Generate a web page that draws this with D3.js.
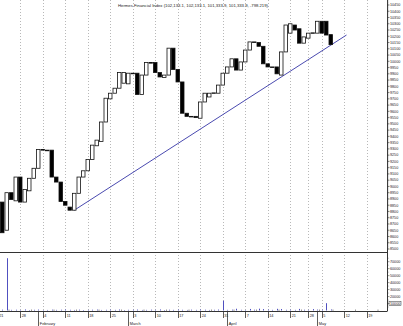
<!DOCTYPE html>
<html>
<head>
<meta charset="utf-8">
<script src="https://cdn.jsdelivr.net/npm/d3@7"></script>
<style>
  body { margin: 0; background: #fff; }
  svg { display: block; font-family: "Liberation Sans", Arial, sans-serif; }
</style>
</head>
<body>
<div id="chart"></div>
<script>
const width = 403,
height = 326;

// daily bodies (open / close), trading day index 0..73
const opens = [8875, 8650, 8950, 8885, 9075, 8875, 8965, 9065, 9145, 9295,
  9290, 9290, 9075, 9035, 8880, 8835, 8810, 8945, 9075, 9125,
  9215, 9325, 9360, 9515, 9700, 9745, 9785, 9825, 9820, 9905,
  9905, 9735, 9890, 9990, 9990, 9910, 9870, 9890, 10105, 9935,
  9835, 9585, 9560, 9560, 9545, 9675, 9715, 9745, 9745, 9810,
  9905, 9955, 10020, 9930, 9995, 10090, 10155, 10150, 10120, 9980,
  9955, 9955, 9890, 10075, 10225, 10290, 10260, 10145, 10185, 10225,
  10225, 10320, 10320, 10213.31];
const closes = [8630, 8950, 8895, 9075, 8875, 8975, 9065, 9145, 9295, 9290,
  9285, 9075, 9035, 8880, 8850, 8810, 8945, 9075, 9125, 9215,
  9330, 9370, 9515, 9705, 9745, 9785, 9910, 9910, 9905, 9903,
  9735, 9890, 9990, 9987, 9910, 9875, 9890, 10105, 9935, 9835,
  9585, 9560, 9558, 9550, 9675, 9745, 9745, 9748, 9810, 9905,
  9955, 10020, 9930, 9995, 10090, 10155, 10152, 10120, 9980, 9955,
  9953, 9900, 10075, 10290, 10300, 10250, 10145, 10195, 10225, 10228,
  10320, 10225, 10210, 10133.39];
const volumes = [1200, 75000, 900, 1100, 800, 1500, 700, 1000, 1300, 600,
  800, 1200, 900, 1100, 1400, 1000, 800, 1200, 700, 900,
  1100, 1300, 800, 1000, 1200, 900, 1400, 700, 1000, 1100,
  1300, 800, 900, 1200, 1000, 1500, 700, 1100, 900, 1300,
  1000, 800, 1200, 900, 1400, 1100, 800, 1000, 1300, 14000,
  900, 1200, 2500, 1000, 800, 2200, 1100, 2600, 2000, 1300,
  900, 2400, 2100, 1000, 1200, 900, 2300, 1100, 1000, 2000,
  1300, 1200, 10500, 1500];

// week ticks (trading day index) and their labels
const weekTicks = [-1, 4, 9, 14, 19, 24, 29, 34, 39, 44, 49, 54, 59, 64, 68, 71, 76, 81];
const weekLabels = ['21', '28', '4', '11', '18', '25', '3', '10', '17', '24', '31', '7', '14', '21', '28', '5', '12', '19'];
const monthTicks = [8, 28, 50, 70];
const monthLabels = ['February', 'March', 'April', 'May'];

const priceTicks = d3.range(8500, 10451, 50);
const volumeTicks = [70000, 60000, 50000, 40000, 30000, 20000, 10000];

// trend line: [day index, price]
const trendStart = [16, 8810];
const trendEnd = [76.5, 10210];

const title = 'Hermes Financial Index (102,133.1, 102,133.1, 101,333.9, 101,333.9, -798.219)';

const plotRight = 387,
priceBottom = 252.5,
axisY = 311.5;

const svg = d3.select('#chart').
append('svg').
attr('width', width).
attr('height', height);

const x = d3.scaleLinear().domain([-0.5, 85.5]).range([0, plotRight]);
const y = d3.scaleLinear().domain([8500, 10450]).range([249, 5]);
const yv = d3.scaleLinear().domain([0, 70000]).range([310.5, 261.7]);

// dotted week gridlines
svg.append('g').
selectAll('line').
data(weekTicks.filter(d => x(d) > 0)).
enter().
append('line').
attr('x1', d => Math.round(x(d)) + 0.5).
attr('x2', d => Math.round(x(d)) + 0.5).
attr('y1', 0).
attr('y2', axisY).
attr('stroke', '#b8b8b8').
attr('stroke-width', 1).
attr('stroke-dasharray', '1,2');

svg.append('text').
attr('x', 118).
attr('y', 7).
attr('textLength', 150).
attr('lengthAdjust', 'spacingAndGlyphs').
style('font-size', '4.3px').
style('fill', '#222').
text(title);

// panel frame lines
svg.append('line').
attr('x1', 0).attr('x2', plotRight).
attr('y1', priceBottom).attr('y2', priceBottom).
attr('stroke', '#333').attr('stroke-width', 1);

svg.append('line').
attr('x1', 0).attr('x2', plotRight).
attr('y1', axisY).attr('y2', axisY).
attr('stroke', '#333').attr('stroke-width', 1);

svg.append('line').
attr('x1', plotRight + 0.5).attr('x2', plotRight + 0.5).
attr('y1', 0).attr('y2', axisY).
attr('stroke', '#333').attr('stroke-width', 1);

// price axis ticks + labels
const yAxis = svg.append('g');
yAxis.selectAll('.minor').
data(d3.range(8500, 10491, 10)).
enter().
append('line').
attr('x1', plotRight).
attr('x2', plotRight + 1.5).
attr('y1', d => y(d)).
attr('y2', d => y(d)).
attr('stroke', '#555').
attr('stroke-width', 0.4);

yAxis.selectAll('.major').
data(priceTicks).
enter().
append('line').
attr('x1', plotRight).
attr('x2', plotRight + 2.5).
attr('y1', d => y(d)).
attr('y2', d => y(d)).
attr('stroke', '#333').
attr('stroke-width', 0.6);

yAxis.selectAll('text').
data(priceTicks).
enter().
append('text').
attr('x', plotRight + 3).
attr('y', d => y(d) + 1.3).
style('font-size', '3.7px').
style('fill', '#222').
text(d => d);

// volume axis
const vAxis = svg.append('g');
vAxis.selectAll('line').
data(d3.range(5000, 75001, 5000)).
enter().
append('line').
attr('x1', plotRight).
attr('x2', d => plotRight + (d % 10000 === 0 ? 2.5 : 1.5)).
attr('y1', d => yv(d)).
attr('y2', d => yv(d)).
attr('stroke', '#333').
attr('stroke-width', 0.5);

vAxis.selectAll('text').
data(volumeTicks).
enter().
append('text').
attr('x', plotRight + 3).
attr('y', d => yv(d) + 1.3).
style('font-size', '3.7px').
style('fill', '#222').
text(d => d);

vAxis.append('rect').
attr('x', plotRight + 2).
attr('y', yv(10000) - 2).
attr('width', 12).
attr('height', 4).
attr('fill', 'none').
attr('stroke', '#333').
attr('stroke-width', 0.5);

// trend line
svg.append('line').
attr('x1', x(trendStart[0])).
attr('y1', y(trendStart[1])).
attr('x2', x(trendEnd[0])).
attr('y2', y(trendEnd[1])).
attr('stroke', '#4a4ab0').
attr('stroke-width', 1);

// candle bodies
const days = opens.map((o, i) => ({ i, o, c: closes[i], v: volumes[i] }));

svg.append('g').
selectAll('rect').
data(days).
enter().
append('rect').
attr('x', d => x(d.i) - 1.75).
attr('width', 3.5).
attr('y', d => y(Math.max(d.o, d.c))).
attr('height', d => Math.max(0.6, Math.abs(y(d.o) - y(d.c)))).
attr('fill', d => d.c >= d.o ? '#fff' : '#000').
attr('stroke', '#111').
attr('stroke-width', 0.8);

// volume bars
svg.append('g').
selectAll('line').
data(days).
enter().
append('line').
attr('x1', d => Math.round(x(d.i)) + 0.5).
attr('x2', d => Math.round(x(d.i)) + 0.5).
attr('y1', yv(0)).
attr('y2', d => yv(d.v)).
attr('stroke', '#5050c0').
attr('stroke-width', 1);

// date axis
const xAxis = svg.append('g');
xAxis.selectAll('.minor').
data(weekTicks.map(d => d + 2.5).filter(d => x(d) > 0 && x(d) < plotRight)).
enter().
append('line').
attr('x1', d => x(d)).
attr('x2', d => x(d)).
attr('y1', axisY).
attr('y2', axisY - 2).
attr('stroke', '#555').
attr('stroke-width', 0.6);

xAxis.selectAll('.week').
data(weekTicks).
enter().
append('line').
attr('x1', d => Math.round(x(d)) + 0.5).
attr('x2', d => Math.round(x(d)) + 0.5).
attr('y1', axisY).
attr('y2', 318).
attr('stroke', '#333').
attr('stroke-width', 0.8);

xAxis.selectAll('.wlabel').
data(weekTicks).
enter().
append('text').
attr('x', d => x(d) + 1.5).
attr('y', 316.8).
style('font-size', '3.8px').
style('fill', '#222').
text((d, i) => weekLabels[i]);

xAxis.selectAll('.month').
data(monthTicks).
enter().
append('line').
attr('x1', d => Math.round(x(d)) + 0.5).
attr('x2', d => Math.round(x(d)) + 0.5).
attr('y1', axisY).
attr('y2', 326).
attr('stroke', '#333').
attr('stroke-width', 0.8);

xAxis.selectAll('.mlabel').
data(monthTicks).
enter().
append('text').
attr('x', d => x(d) + 1.5).
attr('y', 324.8).
style('font-size', '3.9px').
style('fill', '#222').
text((d, i) => monthLabels[i]);
</script>
</body>
</html>
